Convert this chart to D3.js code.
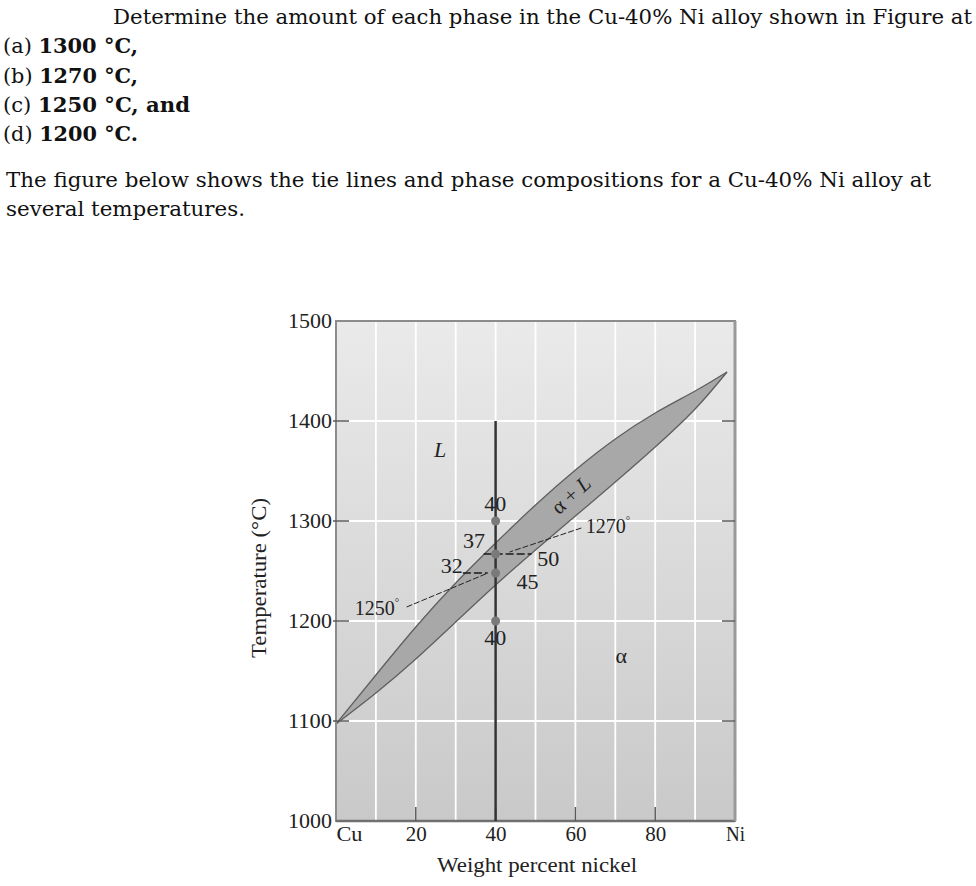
<!DOCTYPE html>
<html>
<head>
<meta charset="utf-8">
<script src="https://cdn.jsdelivr.net/npm/d3@7"></script>
<style>
  html, body { margin: 0; padding: 0; background: #ffffff; }
  svg { display: block; }
</style>
</head>
<body>
<svg id="chart" width="976" height="886"></svg>
<script>
// ---------------- DATA ----------------
const questionLines = [
  "Determine the amount of each phase in the Cu-40% Ni alloy shown in Figure at"
];
const partLabels = ["(a) ", "(b) ", "(c) ", "(d) "];
const partTemps = ["1300 °C,", "1270 °C,", "1250 °C, and", "1200 °C."];
const noteLines = [
  "The figure below shows the tie lines and phase compositions for a Cu-40% Ni alloy at",
  "several temperatures."
];

// phase boundaries (wt% Ni vs temperature °C)
const niPct      = [0,    10,   20,   30,   40,   50,   60,   70,   80,   90,   98];
const liquidusT  = [1097, 1146, 1194, 1238, 1278, 1316, 1351, 1382, 1408, 1430, 1449];
const solidusT   = [1097, 1128, 1162, 1199, 1236, 1271, 1305, 1339, 1374, 1412, 1449];

// alloy composition line and marked temperatures (as drawn)
const alloyNi = 40;
const alloyTopT = 1400;
const markedTemps = [1300, 1267, 1248, 1200];

// tie lines (as drawn)
const tieTemps = [1267, 1248];
const tieFrom  = [37, 31.8];
const tieTo    = [49, 38];

// composition labels
const compTexts = ["40", "37", "32", "50", "45", "40"];

// axes
const yTicks = [1000, 1100, 1200, 1300, 1400, 1500];
const xTicks = [0, 20, 40, 60, 80, 100];
const xTickLabels = ["Cu", "20", "40", "60", "80", "Ni"];
const gridX = [10, 20, 30, 40, 50, 60, 70, 80, 90];
const gridY = [1100, 1200, 1300, 1400];
const innerTicksY = [1100, 1200, 1300, 1400];
const innerTicksX = [20, 40, 60, 80];

// ---------------- LAYOUT ----------------
const svg = d3.select("#chart");
const x = d3.scaleLinear().domain([0, 100]).range([336, 735]);
const y = d3.scaleLinear().domain([1000, 1500]).range([821, 321]);

// ----- question text -----
const qFont = "'DejaVu Serif', 'Liberation Serif', serif";
svg.append("text")
  .attr("x", 113).attr("y", 24)
  .attr("font-family", qFont).attr("font-size", 21).attr("fill", "#111")
  .attr("textLength", 859).attr("lengthAdjust", "spacingAndGlyphs")
  .text(questionLines[0]);

const partBaselines = [53, 83, 112, 141];
const partLengths = [135, 135, 187, 135];
partLabels.forEach((p, i) => {
  const t = svg.append("text")
    .attr("x", 3).attr("y", partBaselines[i])
    .attr("font-family", qFont).attr("font-size", 21).attr("fill", "#111")
    .attr("textLength", partLengths[i]).attr("lengthAdjust", "spacingAndGlyphs");
  t.append("tspan").text(p);
  t.append("tspan").attr("font-weight", "bold").text(partTemps[i]);
});

const noteBaselines = [187, 216];
const noteLengths = [925, 239];
noteLines.forEach((l, i) => {
  svg.append("text")
    .attr("x", 6).attr("y", noteBaselines[i])
    .attr("font-family", qFont).attr("font-size", 21).attr("fill", "#111")
    .attr("textLength", noteLengths[i]).attr("lengthAdjust", "spacingAndGlyphs")
    .text(l);
});

// ----- plot background -----
const defs = svg.append("defs");
const grad = defs.append("linearGradient").attr("id", "bg")
  .attr("x1", 0).attr("y1", 0).attr("x2", 0).attr("y2", 1);
grad.append("stop").attr("offset", "0%").attr("stop-color", "#eaeaea");
grad.append("stop").attr("offset", "100%").attr("stop-color", "#c9c9c9");

svg.append("rect")
  .attr("x", x(0)).attr("y", y(1500))
  .attr("width", x(100) - x(0)).attr("height", y(1000) - y(1500))
  .attr("fill", "url(#bg)");

// grid
svg.append("g").selectAll("line").data(gridX).join("line")
  .attr("x1", d => x(d)).attr("x2", d => x(d))
  .attr("y1", y(1500)).attr("y2", y(1000))
  .attr("stroke", "#ffffff").attr("stroke-width", 1.8);
svg.append("g").selectAll("line").data(gridY).join("line")
  .attr("x1", x(0)).attr("x2", x(100))
  .attr("y1", d => y(d)).attr("y2", d => y(d))
  .attr("stroke", "#ffffff").attr("stroke-width", 1.8);

// ----- two-phase lens -----
const pts = niPct.map((n, i) => ({ n, liq: liquidusT[i], sol: solidusT[i] }));
const curve = d3.curveNatural;
const area = d3.area()
  .x(d => x(d.n)).y0(d => y(d.sol)).y1(d => y(d.liq))
  .curve(curve);
svg.append("path").datum(pts).attr("d", area)
  .attr("fill", "#a8a8a8");
const liqLine = d3.line().x(d => x(d.n)).y(d => y(d.liq)).curve(curve);
const solLine = d3.line().x(d => x(d.n)).y(d => y(d.sol)).curve(curve);
svg.append("path").datum(pts).attr("d", liqLine)
  .attr("fill", "none").attr("stroke", "#5f5f5f").attr("stroke-width", 1.3);
svg.append("path").datum(pts).attr("d", solLine)
  .attr("fill", "none").attr("stroke", "#5f5f5f").attr("stroke-width", 1.3);

// ----- frame & ticks -----
svg.append("rect")
  .attr("x", x(0)).attr("y", y(1500))
  .attr("width", x(100) - x(0)).attr("height", y(1000) - y(1500))
  .attr("fill", "none").attr("stroke", "#8c8c8c").attr("stroke-width", 2);
svg.append("line")
  .attr("x1", x(0)).attr("x2", x(100)).attr("y1", y(1000)).attr("y2", y(1000))
  .attr("stroke", "#707070").attr("stroke-width", 2.6);
svg.append("line")
  .attr("x1", x(100)).attr("x2", x(100)).attr("y1", y(1500)).attr("y2", y(1000))
  .attr("stroke", "#999999").attr("stroke-width", 3);

const tickColor = "#5a5a5a";
svg.append("g").selectAll("line").data(innerTicksY).join("line")
  .attr("x1", x(0) - 3).attr("x2", x(0) + 13)
  .attr("y1", d => y(d)).attr("y2", d => y(d))
  .attr("stroke", tickColor).attr("stroke-width", 1.5);
svg.append("g").selectAll("line").data(innerTicksY).join("line")
  .attr("x1", x(100) - 13).attr("x2", x(100))
  .attr("y1", d => y(d)).attr("y2", d => y(d))
  .attr("stroke", tickColor).attr("stroke-width", 1.5);
svg.append("g").selectAll("line").data(innerTicksX).join("line")
  .attr("x1", d => x(d)).attr("x2", d => x(d))
  .attr("y1", y(1000)).attr("y2", y(1000) - 14)
  .attr("stroke", tickColor).attr("stroke-width", 1.5);

// axis labels via d3 axes
const serif = "'Liberation Serif', 'Times New Roman', serif";
const yAxis = svg.append("g")
  .attr("transform", `translate(${x(0)},0)`)
  .call(d3.axisLeft(y).tickValues(yTicks).tickSize(0).tickPadding(4).tickFormat(d3.format("d")));
yAxis.select(".domain").remove();
yAxis.selectAll("text")
  .attr("font-family", serif).attr("font-size", 20).attr("fill", "#222")
  .attr("textLength", 44).attr("lengthAdjust", "spacingAndGlyphs");

const xAxis = svg.append("g")
  .attr("transform", `translate(0,${y(1000)})`)
  .call(d3.axisBottom(x).tickValues(xTicks).tickSize(0).tickPadding(6)
    .tickFormat((d, i) => xTickLabels[i]));
xAxis.select(".domain").remove();
xAxis.selectAll("text")
  .attr("font-family", serif).attr("font-size", 20).attr("fill", "#222")
  .attr("textLength", d => (d === 0 ? 26 : d === 100 ? 19 : 21))
  .attr("lengthAdjust", "spacingAndGlyphs")
  .attr("text-anchor", d => (d === 0 ? "start" : "middle"));

// axis titles
svg.append("text")
  .attr("transform", `translate(266,${578}) rotate(-90)`)
  .attr("text-anchor", "middle")
  .attr("font-family", serif).attr("font-size", 20).attr("fill", "#222")
  .attr("textLength", 160).attr("lengthAdjust", "spacingAndGlyphs")
  .text("Temperature (°C)");
svg.append("text")
  .attr("x", 537).attr("y", 872)
  .attr("text-anchor", "middle")
  .attr("font-family", serif).attr("font-size", 20).attr("fill", "#222")
  .attr("textLength", 200).attr("lengthAdjust", "spacingAndGlyphs")
  .text("Weight percent nickel");

// ----- alloy line -----
svg.append("line")
  .attr("x1", x(alloyNi)).attr("x2", x(alloyNi))
  .attr("y1", y(alloyTopT)).attr("y2", y(1000))
  .attr("stroke", "#333333").attr("stroke-width", 2.5);

// tie lines
svg.append("g").selectAll("line").data(tieTemps).join("line")
  .attr("x1", (d, i) => x(tieFrom[i])).attr("x2", (d, i) => x(tieTo[i]))
  .attr("y1", d => y(d)).attr("y2", d => y(d))
  .attr("stroke", "#1a1a1a").attr("stroke-width", 1.4)
  .attr("stroke-dasharray", "8,3");

// points
svg.append("g").selectAll("circle").data(markedTemps).join("circle")
  .attr("cx", x(alloyNi)).attr("cy", d => y(d)).attr("r", 4.5)
  .attr("fill", "#7a7a7a");

// leader lines (data coords)
const leaders = [
  { x1: 61.5, t1: 1293, x2: 43.5, t2: 1269 },
  { x1: 17.7, t1: 1214, x2: 38.1, t2: 1248 }
];
svg.append("g").selectAll("line").data(leaders).join("line")
  .attr("x1", d => x(d.x1)).attr("y1", d => y(d.t1))
  .attr("x2", d => x(d.x2)).attr("y2", d => y(d.t2))
  .attr("stroke", "#222").attr("stroke-width", 1)
  .attr("stroke-dasharray", "6,2");

// composition labels (positions in data coordinates)
const compPos = [[39.9, 1317], [34.6, 1280], [29, 1255], [53.2, 1262], [48, 1239], [39.9, 1183]];
svg.append("g").selectAll("text").data(compTexts).join("text")
  .attr("x", (d, i) => x(compPos[i][0])).attr("y", (d, i) => y(compPos[i][1]))
  .attr("text-anchor", "middle").attr("dominant-baseline", "central")
  .attr("font-family", serif).attr("font-size", 20).attr("fill", "#222")
  .attr("textLength", 22).attr("lengthAdjust", "spacingAndGlyphs")
  .text(d => d);

// temperature annotations
const tempNotes = [
  { label: "1270", xn: 62.6, t: 1295 },
  { label: "1250", xn: 4.7, t: 1213 }
];
tempNotes.forEach(n => {
  const t = svg.append("text")
    .attr("x", x(n.xn)).attr("y", y(n.t))
    .attr("dominant-baseline", "central")
    .attr("font-family", serif).attr("font-size", 20).attr("fill", "#222");
  t.append("tspan").attr("textLength", 40).attr("lengthAdjust", "spacingAndGlyphs").text(n.label);
  t.append("tspan").attr("font-size", 11).attr("dy", -6).text("°");
});

// phase labels
svg.append("text")
  .attr("x", x(26.1)).attr("y", y(1372))
  .attr("text-anchor", "middle").attr("dominant-baseline", "central")
  .attr("font-family", serif).attr("font-style", "italic").attr("font-size", 22).attr("fill", "#222")
  .text("L");
svg.append("text")
  .attr("x", x(71.5)).attr("y", y(1166))
  .attr("text-anchor", "middle").attr("dominant-baseline", "central")
  .attr("font-family", serif).attr("font-size", 22).attr("fill", "#222")
  .text("α");
svg.append("text")
  .attr("transform", `translate(${x(58.9)},${y(1326)}) rotate(-42)`)
  .attr("text-anchor", "middle").attr("dominant-baseline", "central")
  .attr("font-family", serif).attr("font-size", 21).attr("fill", "#222")
  .text("α + ")
  .append("tspan").attr("font-style", "italic").text("L");
</script>
</body>
</html>
